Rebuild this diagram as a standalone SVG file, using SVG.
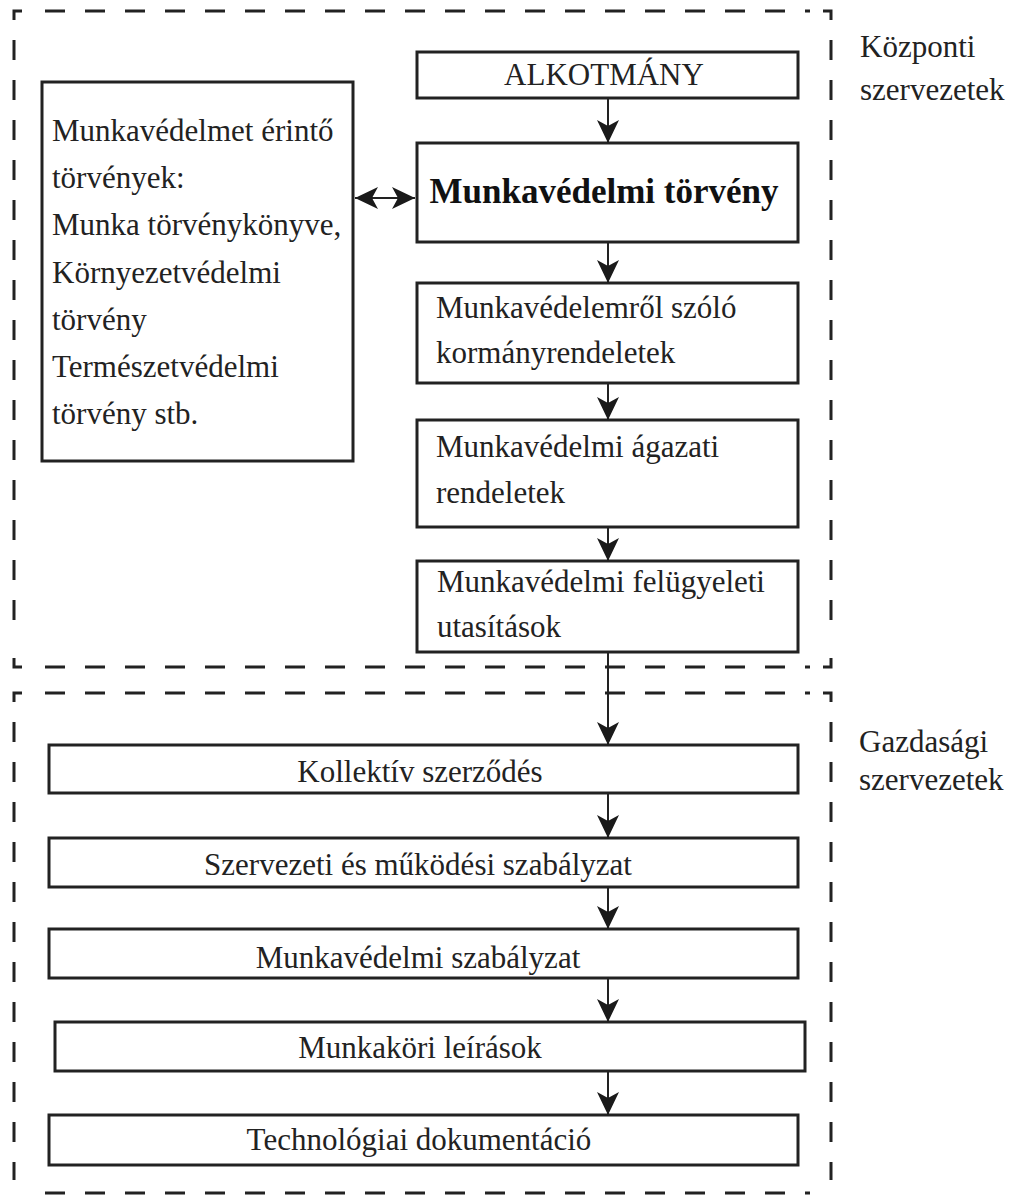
<svg xmlns="http://www.w3.org/2000/svg" width="1011" height="1195" viewBox="0 0 1011 1195">
<defs>
<style>
.bg{fill:#ffffff}
.box{fill:#ffffff;stroke:#222;stroke-width:3}
.dash{fill:none;stroke:#222;stroke-width:3;stroke-dasharray:20 20}
.corner{fill:none;stroke:#222;stroke-width:3}
.t{font-family:"Liberation Serif","Times New Roman",serif;font-size:31px;fill:#222}
.tb{font-family:"Liberation Serif","Times New Roman",serif;font-size:35px;font-weight:bold;fill:#111}
.c{text-anchor:middle}
.conn{fill:none;stroke:#222;stroke-width:2}
</style>
<marker id="ah" viewBox="0 0 24 24" refX="23" refY="12" markerWidth="24" markerHeight="24" markerUnits="userSpaceOnUse" orient="auto-start-reverse">
<path d="M0,1 L23,12 L0,23 L6,12 Z" fill="#1a1a1a"/>
</marker>
</defs>
<rect class="bg" x="0" y="0" width="1011" height="1195"/>

<g id="region-kozponti">
<path class="corner" d="M14,20 V11 H22"/>
<path class="corner" d="M823,11 H831 V20"/>
<path class="corner" d="M14,658 V667 H22"/>
<path class="corner" d="M823,667 H831 V658"/>
<path class="dash" d="M45,11 H810"/>
<path class="dash" d="M45,667 H810"/>
<path class="dash" d="M14,40 V640"/>
<path class="dash" d="M831,40 V640"/>
<text class="t" x="860" y="57">Központi</text>
<text class="t" x="860" y="100">szervezetek</text>
</g>

<g id="region-gazdasagi">
<path class="corner" d="M14,702 V693 H22"/>
<path class="corner" d="M823,693 H831 V702"/>
<path class="dash" d="M45,693 H810"/>
<path class="dash" d="M45,1193 H810"/>
<path class="dash" d="M14,722 V1180"/>
<path class="dash" d="M831,722 V1180"/>
<text class="t" x="859" y="752">Gazdasági</text>
<text class="t" x="859" y="790">szervezetek</text>
</g>

<g id="node-erinto">
<rect class="box" x="42" y="82" width="311" height="379"/>
<text class="t" x="52" y="141">Munkavédelmet érintő</text>
<text class="t" x="52" y="188">törvények:</text>
<text class="t" x="52" y="235">Munka törvénykönyve,</text>
<text class="t" x="52" y="283">Környezetvédelmi</text>
<text class="t" x="52" y="330">törvény</text>
<text class="t" x="52" y="377">Természetvédelmi</text>
<text class="t" x="52" y="424">törvény stb.</text>
</g>

<g id="node-alkotmany">
<rect class="box" x="417" y="52" width="381" height="46"/>
<text class="t c" x="604" y="85">ALKOTMÁNY</text>
</g>

<g id="node-torveny">
<rect class="box" x="417" y="143" width="381" height="99"/>
<text class="tb c" x="604" y="203">Munkavédelmi törvény</text>
</g>

<g id="node-kormanyrendeletek">
<rect class="box" x="417" y="283" width="381" height="100"/>
<text class="t" x="436" y="318">Munkavédelemről szóló</text>
<text class="t" x="436" y="363">kormányrendeletek</text>
</g>

<g id="node-agazati">
<rect class="box" x="417" y="420" width="381" height="107"/>
<text class="t" x="436" y="457">Munkavédelmi ágazati</text>
<text class="t" x="436" y="503">rendeletek</text>
</g>

<g id="node-felugyeleti">
<rect class="box" x="417" y="561" width="381" height="91"/>
<text class="t" x="437" y="592">Munkavédelmi felügyeleti</text>
<text class="t" x="437" y="637">utasítások</text>
</g>

<g id="node-kollektiv">
<rect class="box" x="49" y="745" width="749" height="48"/>
<text class="t c" x="420" y="782">Kollektív szerződés</text>
</g>

<g id="node-szmsz">
<rect class="box" x="49" y="838" width="749" height="49"/>
<text class="t c" x="418" y="875">Szervezeti és működési szabályzat</text>
</g>

<g id="node-mvszab">
<rect class="box" x="49" y="929" width="749" height="49"/>
<text class="t c" x="418" y="968">Munkavédelmi szabályzat</text>
</g>

<g id="node-munkakori">
<rect class="box" x="55" y="1022" width="750" height="49"/>
<text class="t c" x="420" y="1058">Munkaköri leírások</text>
</g>

<g id="node-technologiai">
<rect class="box" x="49" y="1115" width="749" height="50"/>
<text class="t c" x="419" y="1150">Technológiai dokumentáció</text>
</g>

<g id="connectors">
<path class="conn" d="M608,98 V143" marker-end="url(#ah)"/>
<path class="conn" d="M355,198 H415" marker-start="url(#ah)" marker-end="url(#ah)"/>
<path class="conn" d="M608,242 V283" marker-end="url(#ah)"/>
<path class="conn" d="M608,383 V420" marker-end="url(#ah)"/>
<path class="conn" d="M608,527 V561" marker-end="url(#ah)"/>
<path class="conn" d="M608,652 V745" marker-end="url(#ah)"/>
<path class="conn" d="M608,793 V838" marker-end="url(#ah)"/>
<path class="conn" d="M608,887 V929" marker-end="url(#ah)"/>
<path class="conn" d="M608,978 V1022" marker-end="url(#ah)"/>
<path class="conn" d="M608,1071 V1115" marker-end="url(#ah)"/>
</g>
</svg>
